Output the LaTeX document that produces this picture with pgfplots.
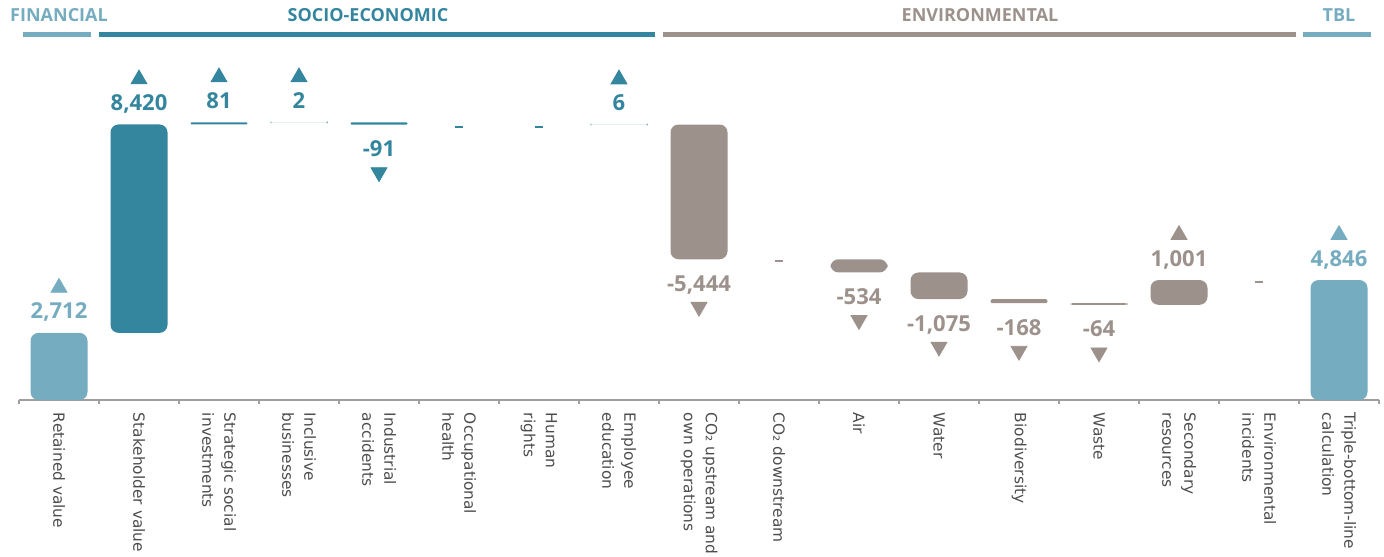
\documentclass[border=0pt]{standalone}
\usepackage{fontspec}
\usepackage{pgfplots}
\pgfplotsset{compat=1.18}
\newfontfamily\osans{Open Sans}
\newfontfamily\dejavu{DejaVu Sans}
\definecolor{fin}{HTML}{76ACC0}
\definecolor{soc}{HTML}{34869E}
\definecolor{env}{HTML}{9C918B}
\definecolor{tickc}{HTML}{4D4D4D}
\pgfplotsset{common/.style={width=680bp,height=200bp,scale only axis,
  xmin=-0.5,xmax=16.5,ymin=0,ymax=16160,clip=false,at={(0,0)},anchor=south west}}
\begin{document}
\begin{tikzpicture}
\begin{axis}[common, name=main, ybar stacked, bar width=28.5bp,
  axis x line*=bottom, axis y line=none,
  axis line style={draw=gray!75, line width=0.7bp},
  xtick={0,...,16},
  xticklabels={Retained value, Stakeholder value, {Strategic social\\investments},
    {Inclusive\\businesses}, {Industrial\\accidents}, {Occupational\\health},
    {Human\\rights}, {Employee\\education}, {CO₂ upstream and\\own operations},
    CO₂ downstream, Air, Water, Biodiversity, Waste, {Secondary\\resources},
    {Environmental\\incidents}, {Triple-bottom-line\\calculation}},
  major tick length=0pt,
  minor xtick={-0.5,0.5,...,16.5}, minor tick length=2.2bp, tick align=outside,
  tick style={draw=gray!75, line width=0.6bp},
  xticklabel style={rotate=-90, anchor=west, align=left, inner sep=0pt,
    font=\dejavu\fontsize{7.7bp}{11bp}\selectfont, text=tickc},
  xticklabel shift=6.3bp,
  ytick=\empty]
\addplot[draw=none, fill=none] coordinates {(0,0) (1,2712) (2,11132) (3,11213) (4,11124) (5,11124) (6,11124) (7,11124) (8,5686) (9,5686) (10,5152) (11,4077) (12,3909) (13,3845) (14,3845) (15,4846) (16,0)};
\addplot[fill=fin, draw=none, rounded corners=4bp] coordinates {(0,2712) (1,0) (2,0) (3,0) (4,0) (5,0) (6,0) (7,0) (8,0) (9,0) (10,0) (11,0) (12,0) (13,0) (14,0) (15,0) (16,4846)};
\addplot[fill=soc, draw=none, rounded corners=4bp] coordinates {(0,0) (1,8420) (2,0) (3,0) (4,0) (5,0) (6,0) (7,0) (8,0) (9,0) (10,0) (11,0) (12,0) (13,0) (14,0) (15,0) (16,0)};
\addplot[fill=soc, draw=none, rounded corners=0.5bp] coordinates {(0,0) (1,0) (2,81) (3,2) (4,91) (5,0) (6,0) (7,6) (8,0) (9,0) (10,0) (11,0) (12,0) (13,0) (14,0) (15,0) (16,0)};
\addplot[fill=env, draw=none, rounded corners=4bp] coordinates {(0,0) (1,0) (2,0) (3,0) (4,0) (5,0) (6,0) (7,0) (8,5444) (9,0) (10,534) (11,1075) (12,0) (13,0) (14,1001) (15,0) (16,0)};
\addplot[fill=env, draw=none, rounded corners=1bp] coordinates {(0,0) (1,0) (2,0) (3,0) (4,0) (5,0) (6,0) (7,0) (8,0) (9,0) (10,0) (11,0) (12,168) (13,64) (14,0) (15,0) (16,0)};
\end{axis}
\begin{axis}[common, axis lines=none, xtick=\empty, ytick=\empty,
  valpos/.style={only marks, mark=none, nodes near coords, point meta=explicit symbolic,
    every node near coord/.style={font=\osans\bfseries\fontsize{11bp}{13bp}\selectfont, text=#1, anchor=base, yshift=7bp}},
  valneg/.style={only marks, mark=none, nodes near coords, point meta=explicit symbolic,
    every node near coord/.style={font=\osans\bfseries\fontsize{11bp}{13bp}\selectfont, text=#1, anchor=base, yshift=-16bp}},
  triup/.style={only marks, mark=triangle*, mark size=4.6bp, color=#1, mark options={yshift=22.6bp}},
  tridown/.style={only marks, mark=triangle*, mark size=4.6bp, color=#1, mark options={yshift=-23.85bp, rotate=180}},
  zero/.style={only marks, mark=-, mark size=2bp, color=#1, mark options={line width=1bp, yshift=-1bp}}]
% positive values (plotted at bar top)
\addplot[valpos=fin] coordinates {(0,2712) [2,712] (16,4846) [4,846]};
\addplot[triup=fin] coordinates {(0,2712) (16,4846)};
\addplot[valpos=soc] coordinates {(1,11132) [8,420] (2,11213) [81] (3,11215) [2] (7,11130) [6]};
\addplot[triup=soc] coordinates {(1,11132) (2,11213) (3,11215) (7,11130)};
\addplot[valpos=env] coordinates {(14,4846) [1,001]};
\addplot[triup=env] coordinates {(14,4846)};
% negative values (plotted at bar bottom)
\addplot[valneg=soc] coordinates {(4,11124) [-91]};
\addplot[tridown=soc] coordinates {(4,11124)};
\addplot[valneg=env] coordinates {(8,5686) [-5,444] (10,5152) [-534] (11,4077) [-1,075] (12,3909) [-168] (13,3845) [-64]};
\addplot[tridown=env] coordinates {(8,5686) (10,5152) (11,4077) (12,3909) (13,3845)};
% zero values
\addplot[zero=soc] coordinates {(5,11124) (6,11124)};
\addplot[zero=env] coordinates {(9,5686) (15,4846)};
% group headers
\tikzset{hdr/.style={font=\osans\bfseries\fontsize{9bp}{11bp}\selectfont, text=#1, anchor=center}}
\node[hdr=fin] at (axis cs:0,15554) {FINANCIAL};
\node[hdr=soc] at (axis cs:3.8625,15554) {SOCIO-ECONOMIC};
\node[hdr=env] at (axis cs:11.5125,15554) {ENVIRONMENTAL};
\node[hdr=fin] at (axis cs:16,15554) {TBL};
\draw[fin, line width=2.5bp] (axis cs:-0.45,14766) -- (axis cs:0.4,14766);
\draw[soc, line width=2.5bp] (axis cs:0.5,14766) -- (axis cs:7.45,14766);
\draw[env, line width=2.5bp] (axis cs:7.55,14766) -- (axis cs:15.4625,14766);
\draw[fin, line width=2.5bp] (axis cs:15.55,14766) -- (axis cs:16.4,14766);
\end{axis}
\pgfresetboundingbox
\path[use as bounding box] ([xshift=-9.5bp,yshift=-78.5bp]main.south west) rectangle ([xshift=2.5bp]main.north east);
\end{tikzpicture}
\end{document}
